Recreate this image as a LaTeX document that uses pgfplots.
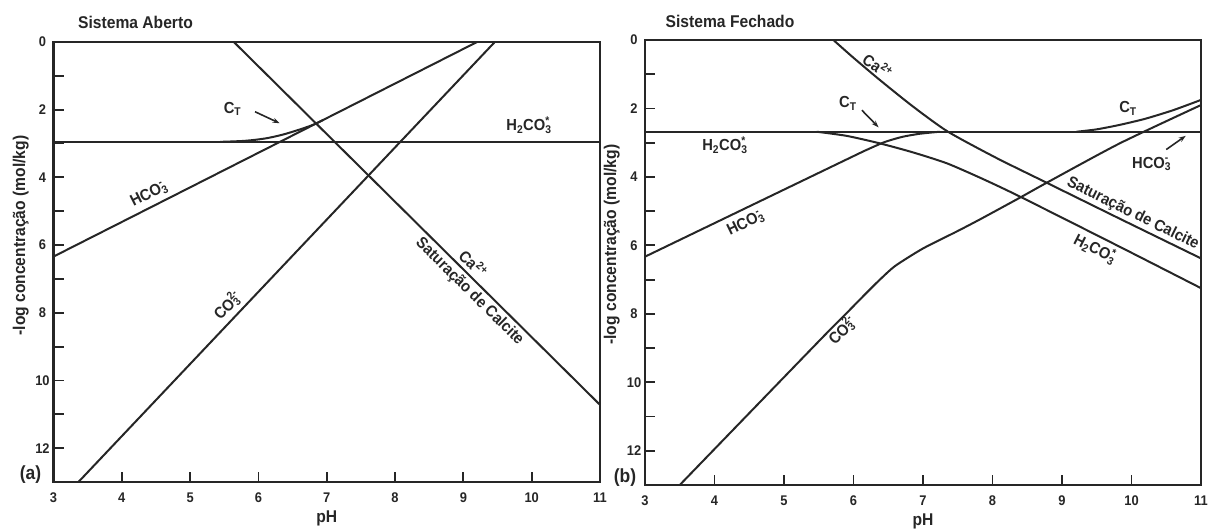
\documentclass[border=0pt]{standalone}
\usepackage{fontspec}
\setmainfont{Liberation Sans}[FakeStretch=0.92]
\usepackage{pgfplots}
\pgfplotsset{compat=1.18}
\usetikzlibrary{arrows.meta}
\definecolor{ink}{HTML}{262626}
\newcommand\fs[1]{\fontsize{#1}{#1}\selectfont\bfseries}
\newcommand\HCOm{HCO\rlap{\textsuperscript{-}}\textsubscript{3}}
\newcommand\HHCO{H\textsubscript{2}CO\rlap{\textsuperscript{*}}\textsubscript{3}}
\newcommand\COdd{CO\rlap{\textsuperscript{2-}}\textsubscript{3}}
\newcommand\Cad{Ca\textsuperscript{2+}}
\tikzset{nodestyle/.style={font=\fs{16}, text=ink, inner sep=0pt},
  arr/.style={-{Stealth[length=7pt,width=5pt]}, line width=1.6pt, ink}}
\pgfplotsset{panel/.style={
  scale only axis, anchor=south west,
  xmin=3, xmax=11, ymin=0, ymax=13, y dir=reverse,
  xtick={3,...,11}, ytick={0,...,12},
  yticklabels={0,,2,,4,,6,,8,,10,,12},
  /pgf/number format/assume math mode=true,
  tick pos=left, tick align=inside, major tick length=10pt,
  major tick style={line width=1.8pt, ink},
  axis line style={draw=none},
  clip mode=individual,
  ticklabel style={font=\fs{14}, text=ink},
  yticklabel style={anchor=center, xshift=-11pt},
  xticklabel style={anchor=north, inner sep=0pt, yshift=-11pt},
  xlabel={pH},
  every axis x label/.style={at={(axis description cs:0.5,0)}, anchor=center, yshift=-36pt, font=\fs{17}, text=ink},
  ylabel={-log concentração (mol/kg)},
  curve/.style={ink, line width=2pt, mark=none, solid},
}}
\begin{document}
\begin{tikzpicture}
\path[use as bounding box] (0,0) rectangle (1209pt,529pt);
% ---------------- (a) Sistema Aberto ----------------
\begin{axis}[panel, at={(53.5pt,47pt)}, width=546.5pt, height=440pt,
  every axis y label/.style={at={(axis description cs:-0.06,0.56)}, rotate=90, anchor=center, font=\fs{17}, text=ink}]
\addplot[curve] coordinates {(3,6.34) (9.20,0)};           % HCO3-
\addplot[curve] coordinates {(3.365,13) (9.46,0)};         % CO3 2-
\addplot[curve] coordinates {(3,2.95) (11,2.95)};          % H2CO3*
\addplot[curve] coordinates {(5.64,0) (11,10.72)};         % Ca2+ / saturacao
\addplot[curve, smooth, tension=0.5] coordinates {(5.44,2.95) (5.8,2.92) (6.1,2.85) (6.35,2.74) (6.55,2.62) (6.7,2.52) (6.82,2.43) (6.95,2.30)}; % CT
\draw[line width=2.6pt, ink] (rel axis cs:0,0) rectangle (rel axis cs:1,1);
\node[nodestyle] at (axis cs:5.62,1.98) {C\textsubscript{T}};
\draw[arr] (axis cs:5.95,2.06) -- (axis cs:6.31,2.40);
\node[nodestyle] at (axis cs:9.96,2.45) {\HHCO};
\node[nodestyle, rotate=26.9] at (axis cs:4.40,4.50) {\HCOm};
\node[nodestyle, rotate=46.6] at (axis cs:5.53,7.82) {\COdd};
\node[nodestyle, rotate=-44.7] at (axis cs:9.15,6.54) {\Cad};
\node[nodestyle, rotate=-44.7] at (axis cs:9.09,7.38) {Saturação de Calcite};
\end{axis}
% ---------------- (b) Sistema Fechado ----------------
\begin{axis}[panel, at={(645pt,44pt)}, width=556pt, height=445pt,
  every axis y label/.style={at={(axis description cs:-0.06,0.54)}, rotate=90, anchor=center, font=\fs{17}, text=ink}]
\addplot[curve] coordinates {(3,2.68) (11,2.68)};          % H2CO3* / CT / HCO3-
\addplot[curve, smooth, tension=0.4] coordinates {(5.47,2.68) (5.9,2.8) (6.38,3.02) (6.85,3.28) (7.34,3.6) (7.85,4.05) (8.4,4.58) (9.83,6.04) (11,7.25)}; % H2CO3*
\addplot[curve, smooth, tension=0.4] coordinates {(3,6.33) (5.9,3.49) (6.2,3.2) (6.45,2.98) (6.7,2.83) (6.95,2.74) (7.24,2.68)}; % HCO3-
\addplot[curve, smooth, tension=0.4] coordinates {(5.71,0) (6.0,0.52) (6.38,1.17) (6.86,1.95) (7.36,2.68) (8.06,3.45) (8.78,4.17) (9.83,5.22) (11,6.38)}; % Ca2+
\addplot[curve, smooth, tension=0.4] coordinates {(9.21,2.68) (9.5,2.61) (9.83,2.48) (10.2,2.3) (10.6,2.05) (11,1.75)}; % CT
\addplot[curve, smooth, tension=0.4] coordinates {(3.5,13) (5.52,8.76) (5.9,7.98) (6.2,7.36) (6.38,7.0) (6.6,6.6) (7.0,6.09) (7.48,5.6) (7.82,5.24) (8.4,4.6) (8.78,4.17) (9.83,3.02) (11,1.9)}; % CO3 2-
\draw[line width=2.6pt, ink] (rel axis cs:0,0) rectangle (rel axis cs:1,1);
\node[nodestyle, rotate=-35] at (axis cs:6.35,0.75) {\Cad};
\node[nodestyle] at (axis cs:5.92,1.85) {C\textsubscript{T}};
\draw[arr] (axis cs:6.12,2.05) -- (axis cs:6.36,2.55);
\node[nodestyle] at (axis cs:4.15,3.07) {\HHCO};
\node[nodestyle, rotate=25.8] at (axis cs:4.45,5.36) {\HCOm};
\node[nodestyle] at (axis cs:9.95,2.0) {C\textsubscript{T}};
\node[nodestyle] at (axis cs:10.29,3.62) {\HCOm};
\draw[arr] (axis cs:10.5,3.2) -- (axis cs:10.78,2.8);
\node[nodestyle, rotate=-26.2] at (axis cs:10.02,5.08) {Saturação de Calcite};
\node[nodestyle, rotate=-27] at (axis cs:9.48,6.09) {\HHCO};
\node[nodestyle, rotate=45.3] at (axis cs:5.82,8.52) {\COdd};
\end{axis}
% titles and panel letters
\node[font=\fs{17}, text=ink] at (135.5pt,506.3pt) {Sistema Aberto};
\node[font=\fs{17}, text=ink] at (730pt,507.3pt) {Sistema Fechado};
\node[font=\fs{19}, text=ink] at (30.5pt,54pt) {(a)};
\node[font=\fs{19}, text=ink] at (625pt,51.7pt) {(b)};
\end{tikzpicture}
\end{document}
